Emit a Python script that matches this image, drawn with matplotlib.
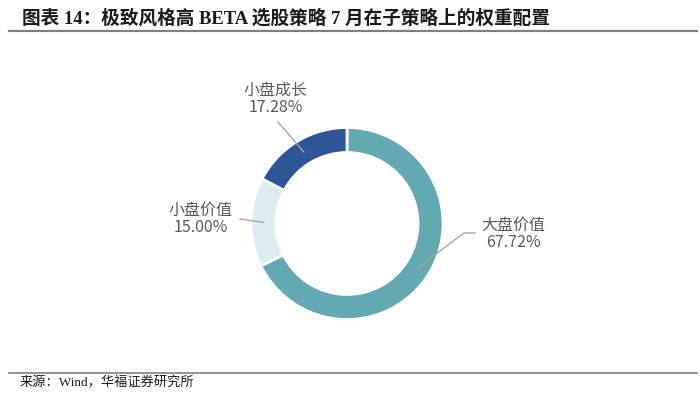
import numpy as np
import matplotlib
matplotlib.use("Agg")
import matplotlib.pyplot as plt

plt.rcParams['font.family'] = ['Noto Sans CJK SC', 'DejaVu Sans']

# data
labels = ['大盘价值', '小盘价值', '小盘成长']
weights = [67.72, 15.00, 17.28]
colors = ['#62A9B1', '#DDEDEF', '#2D5597']

title = '图表 14：极致风格高 BETA 选股策略 7 月在子策略上的权重配置'
source = '来源：Wind，华福证券研究所'

W, H = 700, 398
fig = plt.figure(figsize=(W / 100, H / 100), dpi=100)
ax = fig.add_axes([0, 0, 1, 1])

cx, cy = 347, H - 223.5
r_out, ring = 96, 25
wedges, _ = ax.pie(weights, colors=colors, startangle=90, counterclock=False,
                   center=(cx, cy), radius=r_out, frame=True,
                   wedgeprops=dict(width=ring, edgecolor='white', linewidth=2))
ax.set_xlim(0, W)
ax.set_ylim(0, H)
ax.set_aspect('equal')
ax.axis('off')

# label placement
text_pos = {'大盘价值': (513, H - 234), '小盘价值': (201, H - 219), '小盘成长': (276, H - 99)}
elbow = {'大盘价值': (464, H - 233), '小盘价值': None, '小盘成长': None}
end_pt = {'大盘价值': (475, H - 233), '小盘价值': (240, H - 219), '小盘成长': (278, H - 122)}

for w, lab, val in zip(wedges, labels, weights):
    ang = np.deg2rad((w.theta1 + w.theta2) / 2)
    rm = r_out - ring / 2
    px, py = cx + rm * np.cos(ang), cy + rm * np.sin(ang)
    xs, ys = [px], [py]
    if elbow[lab] is not None:
        xs.append(elbow[lab][0]); ys.append(elbow[lab][1])
    xs.append(end_pt[lab][0]); ys.append(end_pt[lab][1])
    ax.plot(xs, ys, color='#A6A6A6', lw=1)
    tx, ty = text_pos[lab]
    ax.text(tx, ty, f'{lab}\n{val:.2f}%', ha='center', va='center',
            fontsize=11.5, color='#595959', linespacing=1.05)

serif_mix = ['Liberation Serif', 'Noto Sans CJK SC']
fig.text(22 / W, 1 - 18.5 / H, title, ha='left', va='center', fontsize=13.4,
         fontweight='bold', family=serif_mix, color='#1a1a1a')
ax.plot([9, 697], [H - 31, H - 31], color='#7f7f7f', lw=1.6)
ax.plot([9, 697], [H - 373, H - 373], color='#7f7f7f', lw=1.2)
fig.text(20 / W, 1 - 383 / H, source, ha='left', va='center', fontsize=9.5,
         family=serif_mix, color='#1a1a1a')

fig.savefig('out.png', dpi=100, facecolor='white')
